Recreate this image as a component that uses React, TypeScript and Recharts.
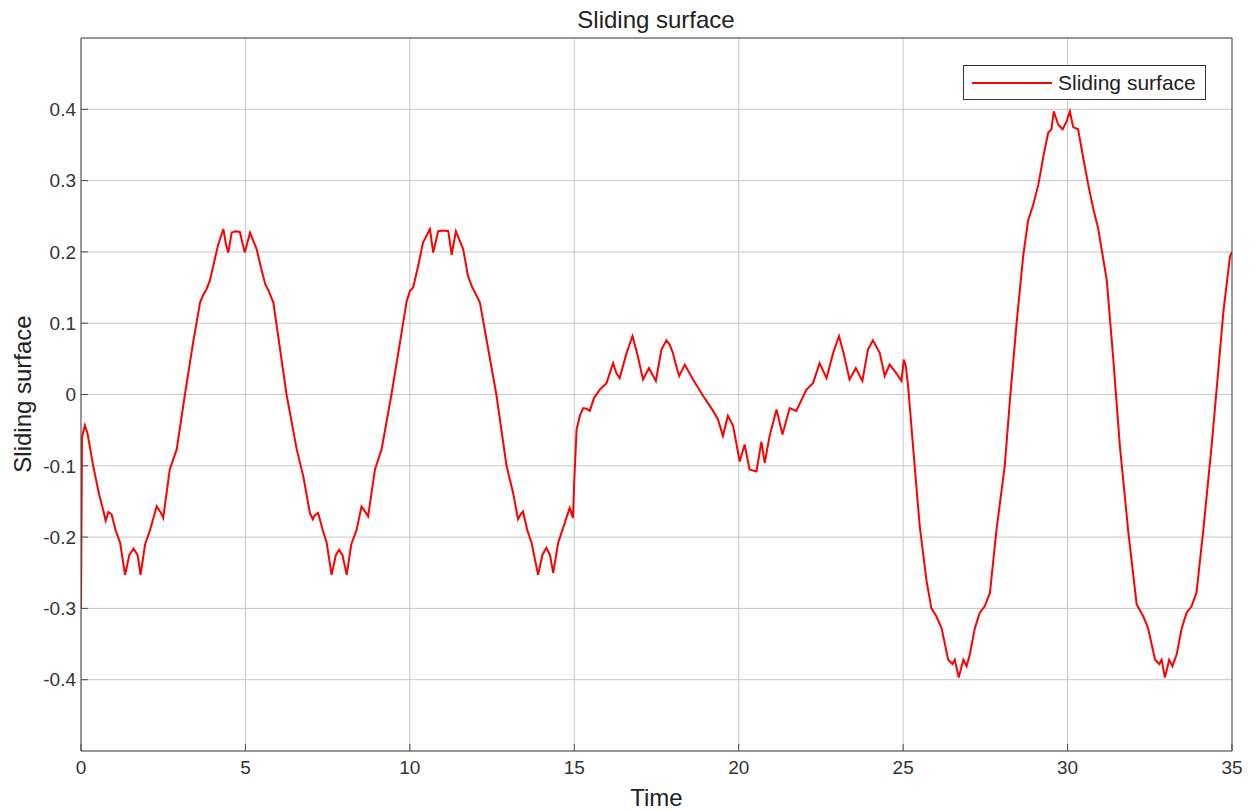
import { LineChart, Line, XAxis, YAxis, CartesianGrid } from 'recharts';

// time samples (s) and sliding surface value
const time = [
  0, 0.03, 0.12, 0.2, 0.37, 0.55, 0.68, 0.75, 0.83, 0.93, 1.05, 1.19, 1.34, 1.47, 1.6, 1.72, 1.81, 1.95,
  2.1, 2.3, 2.42, 2.5, 2.7, 2.91, 3.16, 3.41, 3.62, 3.72, 3.82, 3.92, 4.02, 4.17, 4.33, 4.41, 4.48, 4.58,
  4.7, 4.83, 4.98, 5.14, 5.34, 5.49, 5.6, 5.69, 5.85, 6.25, 6.56, 6.76, 6.96, 7.05, 7.1, 7.21, 7.35, 7.47,
  7.62, 7.75, 7.85, 7.95, 8.08, 8.22, 8.38, 8.53, 8.65, 8.73, 8.94, 9.14, 9.44, 9.7, 9.9, 10.0, 10.1, 10.25,
  10.4, 10.61, 10.71, 10.86, 11.02, 11.17, 11.27, 11.4, 11.62, 11.77, 11.9, 11.98, 12.13, 12.63, 12.94, 13.14,
  13.29, 13.37, 13.44, 13.57, 13.7, 13.9, 14.03, 14.15, 14.26, 14.36, 14.51, 14.71, 14.86, 14.96, 15.0, 15.07,
  15.17, 15.27, 15.37, 15.47, 15.6, 15.78, 15.98, 16.08, 16.18, 16.28, 16.38, 16.59, 16.77, 16.84, 16.91, 17.09,
  17.27, 17.48, 17.65, 17.8, 17.9, 18.0, 18.1, 18.19, 18.36, 18.61, 18.92, 19.22, 19.37, 19.52, 19.67, 19.83,
  20.03, 20.18, 20.33, 20.54, 20.69, 20.79, 20.94, 21.15, 21.33, 21.55, 21.75, 22.06, 22.26, 22.46, 22.67, 22.87,
  23.05, 23.19, 23.37, 23.56, 23.76, 23.93, 24.08, 24.29, 24.44, 24.59, 24.79, 24.95, 25.02, 25.08, 25.15, 25.3,
  25.5, 25.71, 25.86, 26.01, 26.17, 26.37, 26.5, 26.57, 26.69, 26.83, 26.93, 27.03, 27.18, 27.33, 27.48, 27.64,
  27.84, 28.09, 28.25, 28.45, 28.65, 28.8, 28.96, 29.11, 29.26, 29.41, 29.51, 29.58, 29.72, 29.85, 29.97, 30.07,
  30.17, 30.32, 30.48, 30.63, 30.78, 30.93, 31.19, 31.39, 31.59, 31.85, 32.1, 32.3, 32.45, 32.66, 32.79, 32.86,
  32.96, 33.09, 33.19, 33.32, 33.47, 33.62, 33.77, 33.92, 34.13, 34.38, 34.53, 34.74, 34.94, 35,
];

const surface = [
  -0.3, -0.06, -0.043, -0.055, -0.1, -0.14, -0.163, -0.177, -0.165, -0.168, -0.19, -0.208, -0.253, -0.225, -0.216, -0.225, -0.253, -0.21,
  -0.19, -0.157, -0.165, -0.173, -0.105, -0.077, 0, 0.073, 0.129, 0.14, 0.148, 0.16, 0.18, 0.21, 0.232, 0.21, 0.199, 0.227,
  0.229, 0.228, 0.199, 0.227, 0.204, 0.175, 0.155, 0.147, 0.129, 0, -0.077, -0.115, -0.166, -0.175, -0.17, -0.166, -0.19, -0.208,
  -0.253, -0.225, -0.218, -0.225, -0.253, -0.21, -0.19, -0.157, -0.165, -0.171, -0.105, -0.077, 0, 0.073, 0.13, 0.145, 0.15, 0.18,
  0.213, 0.232, 0.199, 0.229, 0.23, 0.229, 0.196, 0.229, 0.204, 0.166, 0.15, 0.143, 0.129, 0, -0.1, -0.138,
  -0.175, -0.168, -0.164, -0.19, -0.208, -0.253, -0.225, -0.215, -0.225, -0.25, -0.208, -0.18, -0.159, -0.173, -0.12, -0.049,
  -0.03, -0.019, -0.02, -0.023, -0.005, 0.007, 0.016, 0.03, 0.044, 0.03, 0.023, 0.058, 0.082, 0.07, 0.058, 0.021,
  0.037, 0.019, 0.063, 0.076, 0.07, 0.058, 0.04, 0.026, 0.042, 0.021, -0.002, -0.023, -0.035, -0.058, -0.03, -0.044,
  -0.094, -0.07, -0.105, -0.108, -0.066, -0.096, -0.058, -0.021, -0.056, -0.019, -0.023, 0.007, 0.016, 0.044, 0.023, 0.058,
  0.082, 0.058, 0.021, 0.037, 0.019, 0.063, 0.076, 0.058, 0.026, 0.042, 0.03, 0.019, 0.049, 0.04, 0.012, -0.072,
  -0.183, -0.261, -0.3, -0.311, -0.328, -0.372, -0.378, -0.372, -0.397, -0.372, -0.381, -0.364, -0.328, -0.306, -0.297, -0.278,
  -0.189, -0.1, -0.006, 0.1, 0.194, 0.244, 0.267, 0.294, 0.333, 0.367, 0.372, 0.397, 0.378, 0.372, 0.383, 0.397,
  0.375, 0.372, 0.331, 0.294, 0.261, 0.233, 0.161, 0.05, -0.072, -0.194, -0.294, -0.311, -0.328, -0.372, -0.378, -0.372,
  -0.397, -0.372, -0.381, -0.364, -0.328, -0.306, -0.297, -0.278, -0.189, -0.072, 0.006, 0.117, 0.194, 0.2,
];

const xTicks = [0, 5, 10, 15, 20, 25, 30, 35];
const yTicks = [-0.4, -0.3, -0.2, -0.1, 0, 0.1, 0.2, 0.3, 0.4];

const rows = time.map((t, i) => ({ t, s: surface[i] }));

const FONT = '"Liberation Sans", Arial, Helvetica, sans-serif';
const AXIS = '#4d4d4d';
const TEXT = '#333333';

export default function App() {
  return (
    <div style={{ position: 'absolute', left: 0, top: 0, width: 1258, height: 810, background: '#fff', fontFamily: FONT }}>
      <LineChart width={1258} height={810} data={rows} margin={{ top: 0, right: 0, bottom: 0, left: 0 }}>
        <CartesianGrid stroke="#c6c6c6" strokeWidth={1} />
        <XAxis
          dataKey="t"
          type="number"
          domain={[0, 35]}
          ticks={xTicks}
          allowDataOverflow
          height={59}
          stroke={AXIS}
          tickSize={-7}
          tickMargin={17}
          tick={{ fill: TEXT, fontSize: 19, fontFamily: FONT }}
          label={{ value: 'Time', position: 'insideBottom', offset: 4, fill: '#222', fontSize: 24, fontFamily: FONT }}
        />
        <XAxis
          xAxisId="top"
          dataKey="t"
          orientation="top"
          type="number"
          domain={[0, 35]}
          ticks={xTicks}
          allowDataOverflow
          height={38}
          stroke={AXIS}
          tick={false}
          tickLine={false}
        />
        <YAxis
          type="number"
          domain={[-0.5, 0.5]}
          ticks={yTicks}
          allowDataOverflow
          width={81}
          stroke={AXIS}
          tickSize={-7}
          tickMargin={12}
          tick={{ fill: TEXT, fontSize: 19, fontFamily: FONT }}
          label={{
            content: () => (
              <text
                x={22}
                y={394}
                transform="rotate(-90 22 394)"
                textAnchor="middle"
                dominantBaseline="central"
                fill="#222"
                fontSize={24}
                fontFamily={FONT}
              >
                Sliding surface
              </text>
            ),
          }}
        />
        <YAxis
          yAxisId="right"
          orientation="right"
          type="number"
          domain={[-0.5, 0.5]}
          ticks={yTicks}
          allowDataOverflow
          width={26}
          stroke={AXIS}
          tick={false}
          tickLine={false}
        />
        <Line
          type="linear"
          dataKey="s"
          stroke="#ff0000"
          strokeWidth={2}
          dot={false}
          isAnimationActive={false}
        />
      </LineChart>

      <div
        style={{
          position: 'absolute',
          left: 656,
          top: 8,
          transform: 'translateX(-50%)',
          fontSize: 24,
          lineHeight: '24px',
          color: '#222',
          whiteSpace: 'nowrap',
        }}
      >
        Sliding surface
      </div>

      <div
        style={{
          position: 'absolute',
          left: 963,
          top: 65,
          width: 241,
          height: 33,
          border: '1px solid #333',
          background: '#fff',
          display: 'flex',
          alignItems: 'center',
        }}
      >
        <div style={{ marginLeft: 8, width: 80, height: 2, background: '#ff0000' }} />
        <span style={{ marginLeft: 6, fontSize: 21, color: '#222', whiteSpace: 'nowrap' }}>Sliding surface</span>
      </div>
    </div>
  );
}
